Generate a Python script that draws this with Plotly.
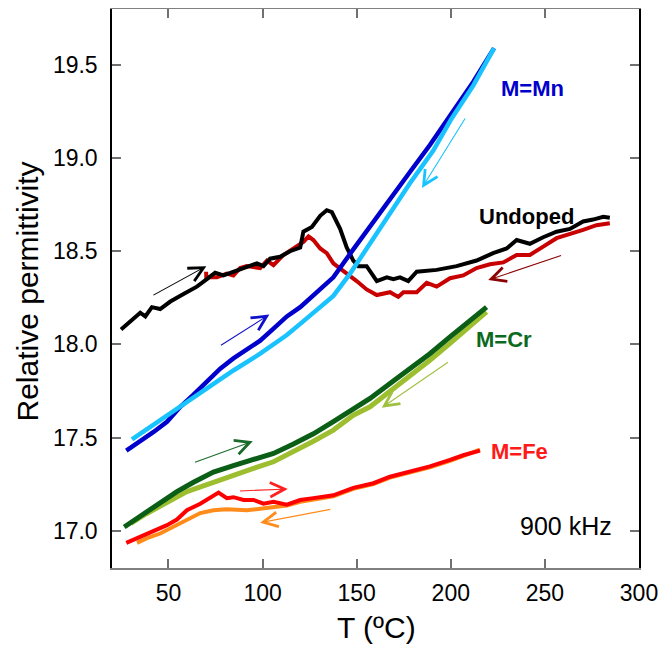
import plotly.graph_objects as go

# ---------------- data ----------------
und_heat_T = [24.8, 35.0, 37.7, 41.2, 45.6, 51.0, 58.0, 61.6, 65.1, 70.4, 74.8, 79.2, 84.5, 91.6, 97.0,
              100.5, 104.0, 109.3, 114.6, 120.0, 121.7, 126.2, 130.6, 134.1, 136.8, 141.2, 144.7, 148.2,
              150.9, 155.3, 160.7, 166.0, 169.5, 173.0, 177.4, 181.9, 192.5, 203.1, 213.7, 222.5, 229.7,
              235.0, 242.0, 249.1, 256.2, 263.3, 270.3, 275.6, 281.0, 284.5]
und_heat_e = [18.08, 18.17, 18.15, 18.20, 18.19, 18.23, 18.27, 18.29, 18.31, 18.35, 18.385, 18.37, 18.39,
              18.42, 18.435, 18.42, 18.46, 18.47, 18.50, 18.52, 18.605, 18.63, 18.69, 18.72, 18.71, 18.62,
              18.52, 18.45, 18.42, 18.42, 18.34, 18.36, 18.35, 18.36, 18.34, 18.39, 18.40, 18.42, 18.45,
              18.49, 18.515, 18.56, 18.54, 18.575, 18.605, 18.62, 18.66, 18.67, 18.685, 18.68]

und_cool_T = [284.5, 277.4, 270.3, 263.3, 256.2, 249.1, 242.0, 235.0, 227.9, 220.8, 213.7, 206.6, 199.6,
              192.5, 187.2, 181.9, 174.8, 172.1, 167.7, 160.7, 155.3, 150.0, 144.7, 141.2, 137.6, 134.1,
              130.6, 127.0, 124.4, 121.7, 118.2, 114.6, 111.1, 105.8, 102.3, 98.7, 91.6, 88.1, 84.5, 81.0,
              75.7, 70.1, 70.0]
und_cool_e = [18.65, 18.64, 18.615, 18.59, 18.57, 18.525, 18.48, 18.48, 18.44, 18.43, 18.41, 18.37, 18.355,
              18.31, 18.33, 18.28, 18.28, 18.255, 18.28, 18.265, 18.295, 18.34, 18.38, 18.41, 18.435, 18.49,
              18.515, 18.56, 18.58, 18.55, 18.525, 18.505, 18.48, 18.425, 18.45, 18.41, 18.42, 18.41, 18.37,
              18.38, 18.36, 18.36, 18.39]

mn_heat_T = [27.6, 35.0, 42.1, 49.2, 56.3, 63.3, 70.4, 77.5, 84.5, 91.7, 98.7, 105.8, 112.9, 120.0, 128.0,
             137.6, 148.2, 157.1, 167.7, 178.3, 188.9, 200.0, 212.0, 223.0]
mn_heat_e = [17.43, 17.48, 17.53, 17.585, 17.665, 17.73, 17.80, 17.87, 17.925, 17.97, 18.02, 18.085, 18.15,
             18.20, 18.275, 18.36, 18.51, 18.63, 18.775, 18.925, 19.07, 19.235, 19.41, 19.59]

mn_cool_T = [223.0, 212.0, 200.0, 190.7, 178.3, 167.7, 157.1, 146.5, 137.6, 127.0, 120.0, 112.9, 98.7,
             84.5, 70.4, 56.3, 42.1, 30.6]
mn_cool_e = [19.59, 19.39, 19.205, 19.04, 18.865, 18.70, 18.54, 18.38, 18.26, 18.165, 18.11, 18.05, 17.95,
             17.86, 17.765, 17.665, 17.57, 17.49]

cr_heat_T = [26.5, 36.8, 45.6, 54.5, 63.3, 73.9, 84.5, 95.2, 105.8, 116.4, 127.0, 137.6, 148.2, 157.1,
             167.7, 178.3, 188.9, 199.6, 210.2, 219.0]
cr_heat_e = [17.02, 17.09, 17.155, 17.21, 17.26, 17.315, 17.35, 17.38, 17.415, 17.465, 17.52, 17.585,
             17.655, 17.71, 17.79, 17.87, 17.95, 18.04, 18.13, 18.20]

cr_cool_T = [219.0, 210.2, 199.6, 188.9, 178.3, 167.7, 157.1, 148.2, 137.6, 127.0, 116.4, 105.8, 95.2,
             84.5, 73.9, 59.8, 49.2, 38.0, 30.0]
cr_cool_e = [18.175, 18.095, 18.005, 17.915, 17.83, 17.745, 17.665, 17.62, 17.54, 17.48, 17.425, 17.37,
             17.335, 17.30, 17.26, 17.21, 17.155, 17.09, 17.04]

fe_heat_T = [27.6, 38.6, 49.2, 54.5, 59.8, 66.9, 72.2, 76.6, 81.0, 84.5, 89.9, 95.2, 100.5, 105.8, 112.9,
             120.0, 127.0, 137.6, 148.2, 158.9, 167.7, 178.3, 188.9, 199.6, 206.6, 215.5]
fe_heat_e = [16.935, 16.985, 17.03, 17.06, 17.11, 17.145, 17.175, 17.205, 17.175, 17.18, 17.165, 17.165,
             17.145, 17.155, 17.14, 17.165, 17.175, 17.19, 17.23, 17.255, 17.29, 17.315, 17.345, 17.38,
             17.405, 17.43]

fe_cool_T = [215.5, 206.6, 199.6, 188.9, 178.3, 167.7, 158.9, 148.2, 137.6, 127.0, 120.0, 112.9, 102.3,
             91.6, 81.0, 73.9, 66.9, 59.8, 52.7, 45.6, 38.6, 33.3]
fe_cool_e = [17.435, 17.40, 17.375, 17.34, 17.31, 17.285, 17.25, 17.225, 17.185, 17.165, 17.155, 17.135,
             17.125, 17.11, 17.115, 17.11, 17.095, 17.06, 17.02, 16.985, 16.96, 16.935]

x_ticks = [50, 100, 150, 200, 250, 300]
y_ticks = [17.0, 17.5, 18.0, 18.5, 19.0, 19.5]

series = [
    (fe_cool_T, fe_cool_e, "#ff8c1a", 4),
    (fe_heat_T, fe_heat_e, "#ff0000", 4),
    (cr_cool_T, cr_cool_e, "#9dbf2f", 5),
    (cr_heat_T, cr_heat_e, "#0b5e16", 5),
    (und_cool_T, und_cool_e, "#c80000", 4),
    (und_heat_T, und_heat_e, "#000000", 4),
    (mn_heat_T, mn_heat_e, "#0000cc", 4.5),
    (mn_cool_T, mn_cool_e, "#19c3ff", 4.5),
]

# arrows: (tail_T, tail_e, head_T, head_e, colour)
arrows = [
    (41.2, 18.26, 70.1, 18.42, "#000000"),
    (77.1, 17.99, 103.6, 18.16, "#1010cc"),
    (208.1, 19.22, 184.7, 18.84, "#19c3ff"),
    (259.4, 18.48, 219.9, 18.345, "#8b0000"),
    (63.3, 17.365, 94.8, 17.48, "#1a6b2a"),
    (199.3, 17.91, 163.3, 17.66, "#a0c040"),
    (87.2, 17.213, 113.4, 17.224, "#ff2020"),
    (136.8, 17.116, 98.7, 17.043, "#ff8c1a"),
]

labels = [
    ("M=Mn", 243.4, 19.372, "#0000cc", 22, True),
    ("Undoped", 240.3, 18.688, "#000000", 22, True),
    ("M=Cr", 228.1, 18.025, "#0b6a1e", 22, True),
    ("M=Fe", 236.7, 17.426, "#ff1a1a", 22, True),
    ("900 kHz", 261.4, 17.026, "#000000", 25, False),
]

FONT = "Arial, Liberation Sans, sans-serif"

fig = go.Figure()
for T, e, c, w in series:
    fig.add_trace(go.Scatter(x=T, y=e, mode="lines", line=dict(color=c, width=w),
                             showlegend=False, hoverinfo="skip"))

for t0, e0, t1, e1, c in arrows:
    fig.add_annotation(x=t1, y=e1, ax=t0, ay=e0, xref="x", yref="y", axref="x", ayref="y",
                       text="", showarrow=True, arrowhead=5, arrowsize=2.6, arrowwidth=1.1,
                       arrowcolor=c)

for txt, xx, yy, c, s, b in labels:
    fig.add_annotation(x=xx, y=yy, xref="x", yref="y", showarrow=False,
                       text=f"<b>{txt}</b>" if b else txt,
                       font=dict(family=FONT, size=s, color=c), xanchor="center", yanchor="middle")

# axis titles
fig.add_annotation(x=-0.1594, y=0.4946, xref="paper", yref="paper", text="Relative permittivity",
                   textangle=-90, showarrow=False, font=dict(family=FONT, size=30, color="#000"),
                   xanchor="center", yanchor="middle")
fig.add_annotation(x=0.501, y=-0.1073, xref="paper", yref="paper", text="T (ºC)",
                   showarrow=False, font=dict(family=FONT, size=30, color="#000"),
                   xanchor="center", yanchor="middle")

fig.update_xaxes(range=[20, 300], tickvals=x_ticks, ticks="inside", ticklen=9, tickwidth=1.5,
                 tickcolor="#707070", showline=True, linecolor="#808080", linewidth=1.5,
                 mirror="ticks", showgrid=False, zeroline=False, ticklabelstandoff=4,
                 tickfont=dict(family=FONT, size=23, color="#000"))
fig.update_yaxes(range=[16.8, 19.8], tickvals=y_ticks, tickformat=".1f", ticks="inside", ticklen=9,
                 tickwidth=1.5, tickcolor="#707070", showline=True, linecolor="#000000", linewidth=1.5,
                 mirror="ticks", showgrid=False, zeroline=False, ticklabelstandoff=8,
                 tickfont=dict(family=FONT, size=23, color="#000"))

# the page body has an 8 px margin; the figure is offset by it
fig.update_layout(width=664, height=638, margin=dict(l=104, r=33, t=1, b=78, autoexpand=False),
                  paper_bgcolor="white", plot_bgcolor="white", showlegend=False)

fig.write_html("out.html")
